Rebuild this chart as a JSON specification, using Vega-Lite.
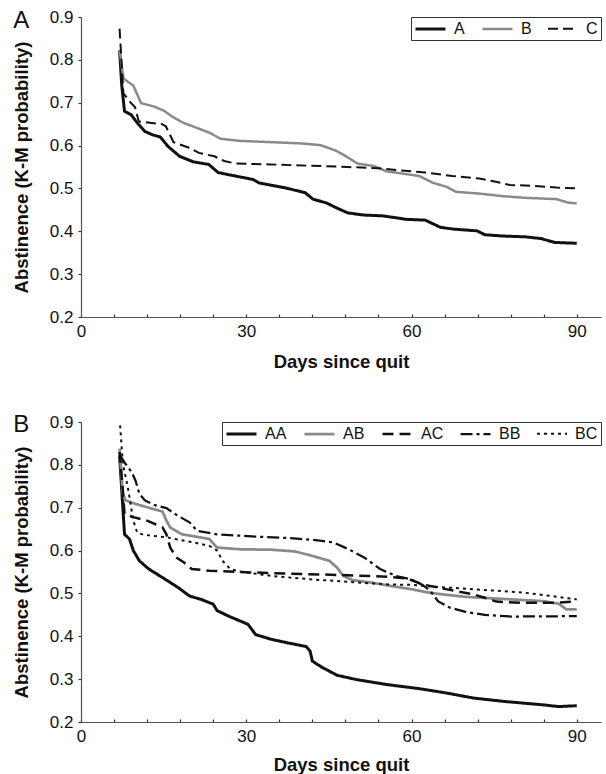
{
  "$schema": "https://vega.github.io/schema/vega-lite/v6.json",
  "padding": {"left": 12, "top": 8, "right": 5, "bottom": 0},
  "spacing": 42,
  "background": "white",
  "resolve": {
    "scale": {"color": "independent", "strokeDash": "independent", "strokeWidth": "independent"},
    "legend": {"color": "independent", "strokeDash": "independent", "strokeWidth": "independent"}
  },
  "config": {
    "view": {"stroke": null},
    "font": "Liberation Sans",
    "axis": {
      "grid": false,
      "labelOverlap": false,
      "labelFlush": false,
      "labelFont": "Liberation Sans",
      "labelFontSize": 17,
      "labelColor": "#111",
      "titleFont": "Liberation Sans",
      "titleFontSize": 18.5,
      "titleFontWeight": "bold",
      "titleColor": "#111",
      "domainColor": "#555",
      "domainWidth": 1.2,
      "tickColor": "#333",
      "tickWidth": 1.2
    },
    "legend": {
      "orient": "top-right",
      "direction": "horizontal",
      "offset": 0,
      "padding": 3,
      "strokeColor": "#333",
      "fillColor": "white",
      "symbolType": "M-1,0H3",
      "symbolSize": 225,
      "labelFont": "Liberation Sans",
      "labelFontSize": 16,
      "labelColor": "#111",
      "labelOffset": 22,
      "columnPadding": 12
    }
  },
  "vconcat": [
    {
      "width": 520,
      "height": 300,
      "layer": [
        {
          "data": {"values": [
            {"g":"A","d":7,"p":0.823},{"g":"A","d":7.4,"p":0.74},{"g":"A","d":7.9,"p":0.68},{"g":"A","d":9.1,"p":0.672},{"g":"A","d":10.2,"p":0.653},{"g":"A","d":11.6,"p":0.633},{"g":"A","d":13,"p":0.625},{"g":"A","d":14.4,"p":0.62},{"g":"A","d":15.8,"p":0.598},{"g":"A","d":17.9,"p":0.575},{"g":"A","d":20.4,"p":0.562},{"g":"A","d":23.2,"p":0.556},{"g":"A","d":24.9,"p":0.537},{"g":"A","d":28.8,"p":0.527},{"g":"A","d":31.2,"p":0.521},{"g":"A","d":32.3,"p":0.513},{"g":"A","d":37.2,"p":0.501},{"g":"A","d":40.7,"p":0.49},{"g":"A","d":42.1,"p":0.475},{"g":"A","d":44.6,"p":0.466},{"g":"A","d":46,"p":0.457},{"g":"A","d":48.4,"p":0.443},{"g":"A","d":51.2,"p":0.438},{"g":"A","d":54.7,"p":0.436},{"g":"A","d":57.5,"p":0.431},{"g":"A","d":58.9,"p":0.428},{"g":"A","d":62.5,"p":0.426},{"g":"A","d":65.3,"p":0.409},{"g":"A","d":67.7,"p":0.405},{"g":"A","d":71.9,"p":0.401},{"g":"A","d":73.3,"p":0.392},{"g":"A","d":76.5,"p":0.389},{"g":"A","d":80.7,"p":0.387},{"g":"A","d":83.5,"p":0.383},{"g":"A","d":86,"p":0.374},{"g":"A","d":90,"p":0.372},
            {"g":"B","d":7,"p":0.823},{"g":"B","d":7.7,"p":0.757},{"g":"B","d":8.4,"p":0.75},{"g":"B","d":9.5,"p":0.74},{"g":"B","d":10.9,"p":0.699},{"g":"B","d":13.3,"p":0.691},{"g":"B","d":15.1,"p":0.681},{"g":"B","d":16.5,"p":0.668},{"g":"B","d":18.6,"p":0.653},{"g":"B","d":21.1,"p":0.641},{"g":"B","d":23.5,"p":0.629},{"g":"B","d":25.3,"p":0.616},{"g":"B","d":28.8,"p":0.611},{"g":"B","d":34.4,"p":0.608},{"g":"B","d":40,"p":0.605},{"g":"B","d":43.5,"p":0.601},{"g":"B","d":46.3,"p":0.588},{"g":"B","d":48.1,"p":0.575},{"g":"B","d":50.2,"p":0.558},{"g":"B","d":53.3,"p":0.552},{"g":"B","d":55.4,"p":0.54},{"g":"B","d":58.2,"p":0.535},{"g":"B","d":61.4,"p":0.529},{"g":"B","d":63.9,"p":0.513},{"g":"B","d":66.3,"p":0.504},{"g":"B","d":68.1,"p":0.492},{"g":"B","d":72.3,"p":0.488},{"g":"B","d":76.5,"p":0.482},{"g":"B","d":80.7,"p":0.478},{"g":"B","d":86.3,"p":0.475},{"g":"B","d":88.4,"p":0.467},{"g":"B","d":90,"p":0.465},
            {"g":"C","d":7,"p":0.873},{"g":"C","d":7.7,"p":0.722},{"g":"C","d":9.1,"p":0.699},{"g":"C","d":9.8,"p":0.69},{"g":"C","d":10.5,"p":0.656},{"g":"C","d":14.7,"p":0.65},{"g":"C","d":15.4,"p":0.645},{"g":"C","d":16.8,"p":0.608},{"g":"C","d":19.6,"p":0.595},{"g":"C","d":21.4,"p":0.583},{"g":"C","d":24.2,"p":0.575},{"g":"C","d":26,"p":0.564},{"g":"C","d":28.1,"p":0.558},{"g":"C","d":34.4,"p":0.556},{"g":"C","d":41.4,"p":0.553},{"g":"C","d":48.4,"p":0.55},{"g":"C","d":54,"p":0.547},{"g":"C","d":58.2,"p":0.542},{"g":"C","d":62.5,"p":0.537},{"g":"C","d":67.4,"p":0.529},{"g":"C","d":72.3,"p":0.523},{"g":"C","d":75.1,"p":0.516},{"g":"C","d":77.9,"p":0.508},{"g":"C","d":82.1,"p":0.506},{"g":"C","d":86.3,"p":0.502},{"g":"C","d":90,"p":0.5}
          ]},
          "mark": {"type": "line", "interpolate": "linear", "strokeCap": "butt"},
          "encoding": {
            "x": {"field": "d", "type": "quantitative", "title": "Days since quit",
                  "scale": {"domain": [0, 94.4], "nice": false},
                  "axis": {"values": [0,6,12,18,24,30,36,42,48,54,60,66,72,78,84,90], "labelExpr": "datum.value % 30 === 0 ? datum.label : ''", "tickSize": -3, "labelPadding": 9, "titlePadding": 13, "labelFlush": false, "labelOverlap": false}},
            "y": {"field": "p", "type": "quantitative", "title": "Abstinence (K-M probability)",
                  "scale": {"domain": [0.2, 0.9], "nice": false, "zero": false},
                  "axis": {"values": [0.2,0.3,0.4,0.5,0.6,0.7,0.8,0.9], "format": ".1f", "tickSize": 3, "labelPadding": 5, "titlePadding": 18}},
            "color": {"field": "g", "type": "ordinal", "scale": {"domain": ["A","B","C"], "range": ["#111111","#8a8a8a","#111111"]}, "legend": {"title": null}},
            "strokeDash": {"field": "g", "type": "ordinal", "scale": {"domain": ["A","B","C"], "range": [[1,0],[1,0],[10,5]]}, "legend": {"title": null}},
            "strokeWidth": {"field": "g", "type": "ordinal", "scale": {"domain": ["A","B","C"], "range": [3,2,2]}, "legend": {"title": null}}
          }
        },
        {
          "data": {"values": [{"panel": "A"}]},
          "mark": {"type": "text", "font": "Liberation Sans", "fontSize": 24, "align": "left", "baseline": "alphabetic", "color": "#111"},
          "encoding": {
            "text": {"field": "panel"},
            "x": {"datum": -12.3, "type": "quantitative", "title": "Days since quit",
                  "scale": {"domain": [0, 94.4], "nice": false},
                  "axis": {"values": [0,6,12,18,24,30,36,42,48,54,60,66,72,78,84,90], "labelExpr": "datum.value % 30 === 0 ? datum.label : ''", "tickSize": -3, "labelPadding": 9, "titlePadding": 13, "labelFlush": false, "labelOverlap": false}},
            "y": {"datum": 0.875, "type": "quantitative", "title": "Abstinence (K-M probability)",
                  "scale": {"domain": [0.2, 0.9], "nice": false, "zero": false},
                  "axis": {"values": [0.2,0.3,0.4,0.5,0.6,0.7,0.8,0.9], "format": ".1f", "tickSize": 3, "labelPadding": 5, "titlePadding": 18}}
          }
        }
      ]
    },
    {
      "width": 520,
      "height": 300,
      "layer": [
        {
          "data": {"values": [
            {"g":"AA","d":7,"p":0.822},{"g":"AA","d":7.6,"p":0.7},{"g":"AA","d":7.9,"p":0.638},{"g":"AA","d":8.8,"p":0.627},{"g":"AA","d":9.5,"p":0.6},{"g":"AA","d":10.6,"p":0.576},{"g":"AA","d":12.3,"p":0.557},{"g":"AA","d":14.8,"p":0.537},{"g":"AA","d":17.6,"p":0.514},{"g":"AA","d":19.7,"p":0.494},{"g":"AA","d":21.8,"p":0.486},{"g":"AA","d":24,"p":0.475},{"g":"AA","d":24.7,"p":0.46},{"g":"AA","d":26.8,"p":0.447},{"g":"AA","d":30.3,"p":0.428},{"g":"AA","d":31.7,"p":0.404},{"g":"AA","d":34.5,"p":0.393},{"g":"AA","d":37.4,"p":0.385},{"g":"AA","d":40.9,"p":0.376},{"g":"AA","d":41.6,"p":0.365},{"g":"AA","d":42,"p":0.342},{"g":"AA","d":43.7,"p":0.328},{"g":"AA","d":46.5,"p":0.309},{"g":"AA","d":50,"p":0.299},{"g":"AA","d":55.7,"p":0.287},{"g":"AA","d":61.3,"p":0.278},{"g":"AA","d":66.2,"p":0.268},{"g":"AA","d":71.2,"p":0.256},{"g":"AA","d":76.8,"p":0.248},{"g":"AA","d":83.9,"p":0.24},{"g":"AA","d":86.7,"p":0.236},{"g":"AA","d":90,"p":0.238},
            {"g":"AB","d":7,"p":0.838},{"g":"AB","d":7.6,"p":0.732},{"g":"AB","d":8.1,"p":0.717},{"g":"AB","d":9.9,"p":0.709},{"g":"AB","d":12,"p":0.701},{"g":"AB","d":14.8,"p":0.691},{"g":"AB","d":15.5,"p":0.67},{"g":"AB","d":16.2,"p":0.654},{"g":"AB","d":18.3,"p":0.638},{"g":"AB","d":21.1,"p":0.632},{"g":"AB","d":23.3,"p":0.627},{"g":"AB","d":24.7,"p":0.607},{"g":"AB","d":28.9,"p":0.603},{"g":"AB","d":34.5,"p":0.602},{"g":"AB","d":38.8,"p":0.598},{"g":"AB","d":41.6,"p":0.589},{"g":"AB","d":45.1,"p":0.576},{"g":"AB","d":46.5,"p":0.56},{"g":"AB","d":47.6,"p":0.541},{"g":"AB","d":49.3,"p":0.531},{"g":"AB","d":52.9,"p":0.525},{"g":"AB","d":56.4,"p":0.517},{"g":"AB","d":59.9,"p":0.51},{"g":"AB","d":62.7,"p":0.503},{"g":"AB","d":65.5,"p":0.498},{"g":"AB","d":69.8,"p":0.492},{"g":"AB","d":74,"p":0.489},{"g":"AB","d":78.2,"p":0.486},{"g":"AB","d":83.9,"p":0.482},{"g":"AB","d":86.7,"p":0.476},{"g":"AB","d":88.1,"p":0.463},{"g":"AB","d":90,"p":0.463},
            {"g":"AC","d":7,"p":0.83},{"g":"AC","d":7.6,"p":0.74},{"g":"AC","d":7.9,"p":0.685},{"g":"AC","d":9.5,"p":0.678},{"g":"AC","d":12,"p":0.67},{"g":"AC","d":14.8,"p":0.654},{"g":"AC","d":15.5,"p":0.638},{"g":"AC","d":16.2,"p":0.607},{"g":"AC","d":17.3,"p":0.584},{"g":"AC","d":18.7,"p":0.572},{"g":"AC","d":20.1,"p":0.557},{"g":"AC","d":23.3,"p":0.553},{"g":"AC","d":31,"p":0.549},{"g":"AC","d":38.1,"p":0.546},{"g":"AC","d":47.2,"p":0.543},{"g":"AC","d":55.7,"p":0.539},{"g":"AC","d":59.2,"p":0.535},{"g":"AC","d":62,"p":0.521},{"g":"AC","d":66.2,"p":0.51},{"g":"AC","d":71.2,"p":0.498},{"g":"AC","d":73.3,"p":0.49},{"g":"AC","d":75.4,"p":0.481},{"g":"AC","d":80.3,"p":0.478},{"g":"AC","d":85.3,"p":0.478},{"g":"AC","d":90,"p":0.481},
            {"g":"BB","d":7.1,"p":0.822},{"g":"BB","d":8.1,"p":0.802},{"g":"BB","d":9.2,"p":0.783},{"g":"BB","d":9.9,"p":0.763},{"g":"BB","d":10.6,"p":0.732},{"g":"BB","d":11.6,"p":0.717},{"g":"BB","d":13.4,"p":0.706},{"g":"BB","d":15.5,"p":0.699},{"g":"BB","d":17.6,"p":0.681},{"g":"BB","d":19.7,"p":0.666},{"g":"BB","d":21.1,"p":0.646},{"g":"BB","d":24.7,"p":0.638},{"g":"BB","d":31,"p":0.633},{"g":"BB","d":38.1,"p":0.629},{"g":"BB","d":43,"p":0.624},{"g":"BB","d":45.8,"p":0.619},{"g":"BB","d":48.6,"p":0.603},{"g":"BB","d":51.4,"p":0.584},{"g":"BB","d":54.3,"p":0.557},{"g":"BB","d":57.1,"p":0.541},{"g":"BB","d":59.9,"p":0.533},{"g":"BB","d":62,"p":0.52},{"g":"BB","d":63.4,"p":0.506},{"g":"BB","d":64.8,"p":0.482},{"g":"BB","d":66.9,"p":0.467},{"g":"BB","d":69.8,"p":0.457},{"g":"BB","d":73.3,"p":0.45},{"g":"BB","d":78.2,"p":0.446},{"g":"BB","d":90,"p":0.447},
            {"g":"BC","d":7.1,"p":0.892},{"g":"BC","d":7.6,"p":0.802},{"g":"BC","d":8.5,"p":0.748},{"g":"BC","d":9.5,"p":0.67},{"g":"BC","d":10.2,"p":0.642},{"g":"BC","d":11.3,"p":0.637},{"g":"BC","d":15.5,"p":0.631},{"g":"BC","d":20.4,"p":0.619},{"g":"BC","d":23.3,"p":0.611},{"g":"BC","d":24.7,"p":0.6},{"g":"BC","d":25.7,"p":0.576},{"g":"BC","d":27.1,"p":0.557},{"g":"BC","d":28.9,"p":0.551},{"g":"BC","d":34.5,"p":0.541},{"g":"BC","d":41.6,"p":0.533},{"g":"BC","d":48.6,"p":0.527},{"g":"BC","d":55.7,"p":0.521},{"g":"BC","d":59.9,"p":0.52},{"g":"BC","d":62.7,"p":0.517},{"g":"BC","d":66.2,"p":0.514},{"g":"BC","d":73.3,"p":0.508},{"g":"BC","d":80.3,"p":0.502},{"g":"BC","d":85.3,"p":0.494},{"g":"BC","d":90,"p":0.486}
          ]},
          "mark": {"type": "line", "interpolate": "linear", "strokeCap": "butt"},
          "encoding": {
            "x": {"field": "d", "type": "quantitative", "title": "Days since quit",
                  "scale": {"domain": [0, 94.4], "nice": false},
                  "axis": {"values": [0,6,12,18,24,30,36,42,48,54,60,66,72,78,84,90], "labelExpr": "datum.value % 30 === 0 ? datum.label : ''", "tickSize": -3, "labelPadding": 9, "titlePadding": 11, "labelFlush": false, "labelOverlap": false}},
            "y": {"field": "p", "type": "quantitative", "title": "Abstinence (K-M probability)",
                  "scale": {"domain": [0.2, 0.9], "nice": false, "zero": false},
                  "axis": {"values": [0.2,0.3,0.4,0.5,0.6,0.7,0.8,0.9], "format": ".1f", "tickSize": 3, "labelPadding": 5, "titlePadding": 18}},
            "color": {"field": "g", "type": "ordinal", "scale": {"domain": ["AA","AB","AC","BB","BC"], "range": ["#111111","#8a8a8a","#111111","#111111","#111111"]}, "legend": {"title": null}},
            "strokeDash": {"field": "g", "type": "ordinal", "scale": {"domain": ["AA","AB","AC","BB","BC"], "range": [[1,0],[1,0],[11,6],[12,4,3,4],[3,4]]}, "legend": {"title": null}},
            "strokeWidth": {"field": "g", "type": "ordinal", "scale": {"domain": ["AA","AB","AC","BB","BC"], "range": [3,2,2,2,2]}, "legend": {"title": null}}
          }
        },
        {
          "data": {"values": [{"panel": "B"}]},
          "mark": {"type": "text", "font": "Liberation Sans", "fontSize": 24, "align": "left", "baseline": "alphabetic", "color": "#111"},
          "encoding": {
            "text": {"field": "panel"},
            "x": {"datum": -12.3, "type": "quantitative", "title": "Days since quit",
                  "scale": {"domain": [0, 94.4], "nice": false},
                  "axis": {"values": [0,6,12,18,24,30,36,42,48,54,60,66,72,78,84,90], "labelExpr": "datum.value % 30 === 0 ? datum.label : ''", "tickSize": -3, "labelPadding": 9, "titlePadding": 11, "labelFlush": false, "labelOverlap": false}},
            "y": {"datum": 0.876, "type": "quantitative", "title": "Abstinence (K-M probability)",
                  "scale": {"domain": [0.2, 0.9], "nice": false, "zero": false},
                  "axis": {"values": [0.2,0.3,0.4,0.5,0.6,0.7,0.8,0.9], "format": ".1f", "tickSize": 3, "labelPadding": 5, "titlePadding": 18}}
          }
        }
      ]
    }
  ]
}
